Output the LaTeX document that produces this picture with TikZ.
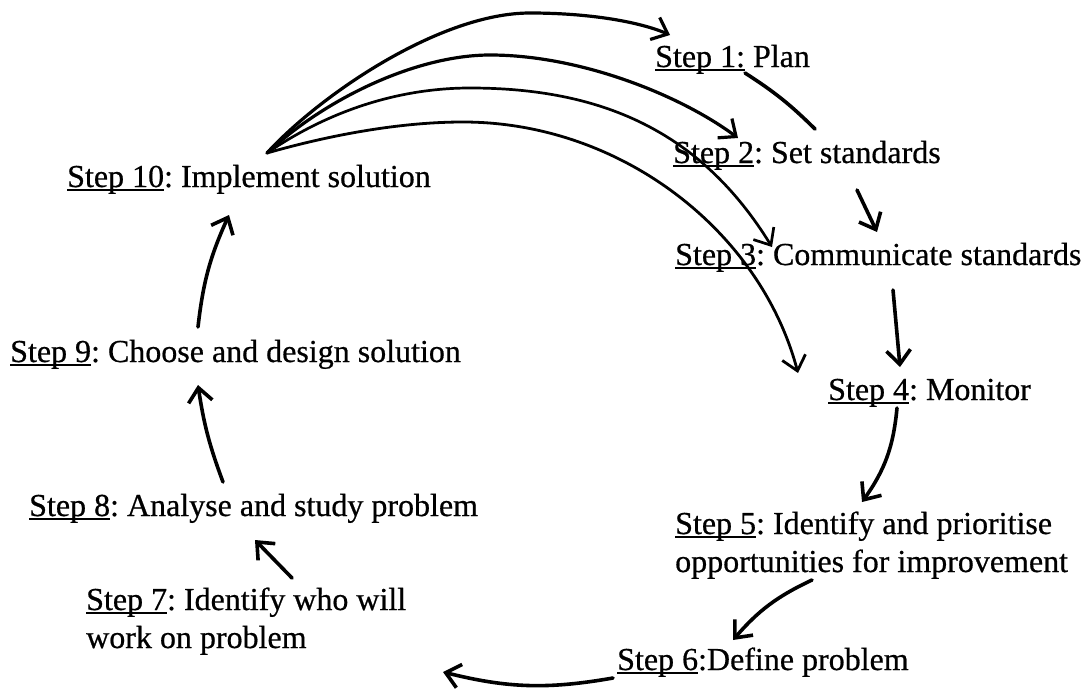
\documentclass[tikz,border=0pt]{standalone}
\usepackage{fontspec}
\setmainfont{Liberation Serif}[FakeBold=0.6]
\usetikzlibrary{arrows.meta}
\frenchspacing
\newcommand{\stepu}[1]{\setbox0\hbox{#1}\rlap{\rule[-3.5pt]{\wd0}{1.4pt}}\box0\relax}
\tikzset{
  txt/.style={anchor=base west, inner sep=0pt, align=left, font=\fontsize{32}{38}\selectfont},
  headtip/.style={-{Straight Barb[length=14pt,width=24pt]}},
  steparrow/.style={line width=3.6pt, line cap=round, headtip},
  fanarrow/.style={line width=2.8pt, line cap=round, headtip},
  plainline/.style={line width=3.6pt, line cap=round},
}
\begin{document}
\begin{tikzpicture}[x=1pt,y=-1pt]
\useasboundingbox (0,0) rectangle (1091,688);
\fill[white] (0,0) rectangle (1091,688);

% step texts (base anchor = baseline of the last line)
\node[txt] (s1) at (655,67) {\stepu{Step 1:} Plan};
\node[txt] (s2) at (673,163) {\stepu{Step 2}: Set standards};
\node[txt] (s3) at (675,265) {\stepu{Step 3}: Communicate standards};
\node[txt] (s4) at (828,400) {\stepu{Step 4}: Monitor};
\node[txt] (s5) at (675,572) {\stepu{Step 5}: Identify and prioritise\\opportunities for improvement};
\node[txt] (s6) at (617,670) {\stepu{Step 6}:Define problem};
\node[txt] (s7) at (86,648) {\stepu{Step 7}: Identify who will\\work on problem};
\node[txt] (s8) at (29,516) {\stepu{Step 8}: Analyse and study problem};
\node[txt] (s9) at (10,362) {\stepu{Step 9}: Choose and design solution};
\node[txt] (s10) at (67,187) {\stepu{Step 10}: Implement solution};

% connector end points
\coordinate (fan) at (267,153);
\coordinate (p1) at (530,13);
\coordinate (p2) at (490,55);
\coordinate (p3) at (470,88);
\coordinate (p4) at (463,122);
\coordinate (t1) at (670,35);
\coordinate (t2) at (738,138);
\coordinate (t3) at (772,247);
\coordinate (t4) at (798,373);

\coordinate (a12s) at (745,73);   \coordinate (a12e) at (815,129);
\coordinate (a23s) at (857,190);  \coordinate (a23e) at (877,232);
\coordinate (a34s) at (893,290);  \coordinate (a34e) at (900,367);
\coordinate (a45s) at (897,408);  \coordinate (a45e) at (862,502);
\coordinate (a56s) at (812,580);  \coordinate (a56e) at (733,640);
\coordinate (a67s) at (613,678);  \coordinate (a67e) at (443,672);
\coordinate (a78s) at (292,578);  \coordinate (a78e) at (255,540);
\coordinate (a89s) at (223,482);  \coordinate (a89e) at (198,385);
\coordinate (a910s) at (198,327); \coordinate (a910e) at (229,215);

% fan of arrows from Step 10
\draw[fanarrow, line width=3.2pt] (fan) .. controls (320,95) and (440,13) .. (p1) .. controls (590,13) and (640,22) .. (t1);
\draw[fanarrow, line width=3.2pt] (fan) .. controls (330,95) and (420,55) .. (p2) .. controls (580,55) and (680,95) .. (t2);
\draw[fanarrow, line width=2.7pt] (fan) .. controls (330,110) and (400,88) .. (p3) .. controls (600,88) and (700,130) .. (t3);
\draw[fanarrow] (fan) .. controls (330,135) and (400,122) .. (p4) .. controls (620,122) and (760,230) .. (t4);

% cycle arrows
\draw[plainline] (a12s) to[bend left=6] (a12e);
\draw[steparrow] (a23s) -- (a23e);
\draw[steparrow] (a34s) -- (a34e);
\draw[steparrow] (a45s) to[bend left=15] (a45e);
\draw[steparrow] (a56s) to[bend right=12] (a56e);
\draw[steparrow] (a67s) to[bend left=12] (a67e);
\draw[steparrow] (a78s) -- (a78e);
\draw[steparrow] (a89s) to[bend left=6] (a89e);
\draw[steparrow] (a910s) to[bend left=9] (a910e);
\end{tikzpicture}
\end{document}
